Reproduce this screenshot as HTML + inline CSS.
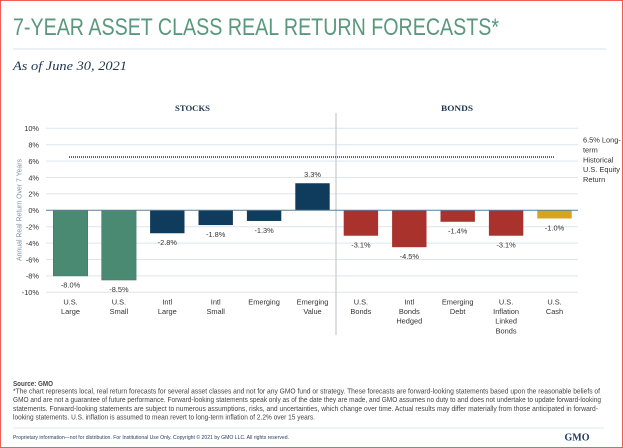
<!DOCTYPE html>
<html><head><meta charset="utf-8">
<style>
html,body{margin:0;padding:0;background:#fff;}
svg{display:block;}
text{font-family:"Liberation Sans",sans-serif;}
.serif{font-family:"Liberation Serif",serif;}
.t{font-size:7.4px;fill:#333;}
.c{font-size:7.4px;fill:#333;text-anchor:middle;}
.f{font-size:7px;fill:#444;}
</style></head>
<body>
<svg width="624" height="448" viewBox="0 0 624 448" xmlns="http://www.w3.org/2000/svg">
<rect x="0.5" y="0.5" width="622" height="447" fill="#fff" stroke="#f25c54" stroke-width="1"/>

<!-- Title -->
<text x="13" y="35" font-size="24.5" fill="#5a987d" textLength="486" lengthAdjust="spacingAndGlyphs">7-YEAR ASSET CLASS REAL RETURN FORECASTS*</text>
<line x1="13" y1="49" x2="606" y2="49" stroke="#dde7ef" stroke-width="1.2"/>
<text class="serif" x="13" y="70" font-size="13" font-style="italic" fill="#1e3550" textLength="114" lengthAdjust="spacingAndGlyphs">As of June 30, 2021</text>

<!-- Section headers -->
<text class="serif" x="192.5" y="111" font-size="8" font-weight="bold" fill="#1e3550" text-anchor="middle" textLength="35" lengthAdjust="spacingAndGlyphs">STOCKS</text>
<text class="serif" x="457" y="111" font-size="8" font-weight="bold" fill="#1e3550" text-anchor="middle" textLength="32" lengthAdjust="spacingAndGlyphs">BONDS</text>

<!-- Gridlines -->
<g stroke="#dce6ef" stroke-width="1">
<line x1="46" y1="128.3" x2="578" y2="128.3"/>
<line x1="46" y1="144.7" x2="578" y2="144.7"/>
<line x1="46" y1="161.1" x2="578" y2="161.1"/>
<line x1="46" y1="177.5" x2="578" y2="177.5"/>
<line x1="46" y1="193.9" x2="578" y2="193.9"/>
<line x1="46" y1="226.7" x2="578" y2="226.7"/>
<line x1="46" y1="243.1" x2="578" y2="243.1"/>
<line x1="46" y1="259.5" x2="578" y2="259.5"/>
<line x1="46" y1="275.9" x2="578" y2="275.9"/>
<line x1="46" y1="292.3" x2="578" y2="292.3"/>
</g>

<!-- Divider -->
<line x1="336" y1="113" x2="336" y2="335" stroke="#c9ced3" stroke-width="1.3"/>

<!-- Y tick labels -->
<g class="t" text-anchor="end">
<text x="39" y="131.1">10%</text>
<text x="39" y="147.5">8%</text>
<text x="39" y="163.9">6%</text>
<text x="39" y="180.3">4%</text>
<text x="39" y="196.7">2%</text>
<text x="39" y="213.1">0%</text>
<text x="39" y="229.5">-2%</text>
<text x="39" y="245.9">-4%</text>
<text x="39" y="262.3">-6%</text>
<text x="39" y="278.7">-8%</text>
<text x="39" y="295.1">-10%</text>
</g>

<!-- Y axis title -->
<text transform="translate(21.5,210) rotate(-90)" font-size="7" fill="#7b90a8" text-anchor="middle" textLength="102" lengthAdjust="spacingAndGlyphs">Annual Real Return Over 7 Years</text>

<!-- Bars -->
<g>
<rect x="53.3" y="210.3" width="34.4" height="65.6" fill="#4a8a73" stroke="#3f7a65" stroke-width="0.6"/>
<rect x="101.7" y="210.3" width="34.4" height="69.7" fill="#4a8a73" stroke="#3f7a65" stroke-width="0.6"/>
<rect x="150.1" y="210.3" width="34.4" height="22.96" fill="#0f3b5c"/>
<rect x="198.5" y="210.3" width="34.4" height="14.76" fill="#0f3b5c"/>
<rect x="246.9" y="210.3" width="34.4" height="10.66" fill="#0f3b5c"/>
<rect x="295.3" y="183.24" width="34.4" height="27.06" fill="#0f3b5c"/>
<rect x="343.7" y="210.3" width="34.4" height="25.42" fill="#a9322c"/>
<rect x="392.1" y="210.3" width="34.4" height="36.9" fill="#a9322c"/>
<rect x="440.5" y="210.3" width="34.4" height="11.48" fill="#a9322c"/>
<rect x="488.9" y="210.3" width="34.4" height="25.42" fill="#a9322c"/>
<rect x="537.3" y="210.3" width="34.4" height="8.2" fill="#d6a520"/>
</g>

<!-- Zero line -->
<line x1="46" y1="210.3" x2="578" y2="210.3" stroke="#5b7e99" stroke-width="1"/>

<!-- Dotted 6.5% line -->
<line x1="69" y1="157" x2="554" y2="157" stroke="#1c3a55" stroke-width="1.6" stroke-dasharray="1,1"/>

<!-- Value labels -->
<g class="c">
<text x="70.5" y="287.7">-8.0%</text>
<text x="118.9" y="291.8">-8.5%</text>
<text x="167.3" y="245.1">-2.8%</text>
<text x="215.7" y="236.9">-1.8%</text>
<text x="264.1" y="232.8">-1.3%</text>
<text x="312.5" y="177">3.3%</text>
<text x="360.9" y="247.5">-3.1%</text>
<text x="409.3" y="259">-4.5%</text>
<text x="457.7" y="233.6">-1.4%</text>
<text x="506.1" y="247.5">-3.1%</text>
<text x="554.5" y="230.3">-1.0%</text>
</g>

<!-- Category labels -->
<g class="c">
<text x="70.5" y="304.3">U.S.</text><text x="70.5" y="314">Large</text>
<text x="118.9" y="304.3">U.S.</text><text x="118.9" y="314">Small</text>
<text x="167.3" y="304.3">Intl</text><text x="167.3" y="314">Large</text>
<text x="215.7" y="304.3">Intl</text><text x="215.7" y="314">Small</text>
<text x="264.1" y="304.3">Emerging</text>
<text x="312.5" y="304.3">Emerging</text><text x="312.5" y="314">Value</text>
<text x="360.9" y="304.3">U.S.</text><text x="360.9" y="314">Bonds</text>
<text x="409.3" y="304.3">Intl</text><text x="409.3" y="314">Bonds</text><text x="409.3" y="323.7">Hedged</text>
<text x="457.7" y="304.3">Emerging</text><text x="457.7" y="314">Debt</text>
<text x="506.1" y="304.3">U.S.</text><text x="506.1" y="314">Inflation</text><text x="506.1" y="323.7">Linked</text><text x="506.1" y="333.4">Bonds</text>
<text x="554.5" y="304.3">U.S.</text><text x="554.5" y="314">Cash</text>
</g>

<!-- Legend note -->
<g class="t">
<text x="583" y="142.7">6.5% Long-</text>
<text x="583" y="152.5">term</text>
<text x="583" y="162.3">Historical</text>
<text x="583" y="172.1">U.S. Equity</text>
<text x="583" y="181.9">Return</text>
</g>

<!-- Footer -->
<text x="13" y="386" font-size="7" font-weight="bold" fill="#444" textLength="40" lengthAdjust="spacingAndGlyphs">Source: GMO</text>
<text class="f" x="13" y="393.7" textLength="587" lengthAdjust="spacingAndGlyphs">*The chart represents local, real return forecasts for several asset classes and not for any GMO fund or strategy. These forecasts are forward-looking statements based upon the reasonable beliefs of</text>
<text class="f" x="13" y="402.2" textLength="588" lengthAdjust="spacingAndGlyphs">GMO and are not a guarantee of future performance. Forward-looking statements speak only as of the date they are made, and GMO assumes no duty to and does not undertake to update forward-looking</text>
<text class="f" x="13" y="410.9" textLength="585" lengthAdjust="spacingAndGlyphs">statements. Forward-looking statements are subject to numerous assumptions, risks, and uncertainties, which change over time. Actual results may differ materially from those anticipated in forward-</text>
<text class="f" x="13" y="419.5" textLength="302" lengthAdjust="spacingAndGlyphs">looking statements. U.S. inflation is assumed to mean revert to long-term inflation of 2.2% over 15 years.</text>

<line x1="13" y1="428" x2="604" y2="428" stroke="#dde7ef" stroke-width="1"/>
<text x="13" y="439" font-size="5.5" fill="#1e3a5c" textLength="276" lengthAdjust="spacingAndGlyphs">Proprietary information—not for distribution. For Institutional Use Only. Copyright © 2021 by GMO LLC. All rights reserved.</text>
<text class="serif" x="564.5" y="440.5" font-size="11" font-weight="bold" fill="#1e3a5c" textLength="25" lengthAdjust="spacingAndGlyphs">GMO</text>
</svg>
</body></html>
